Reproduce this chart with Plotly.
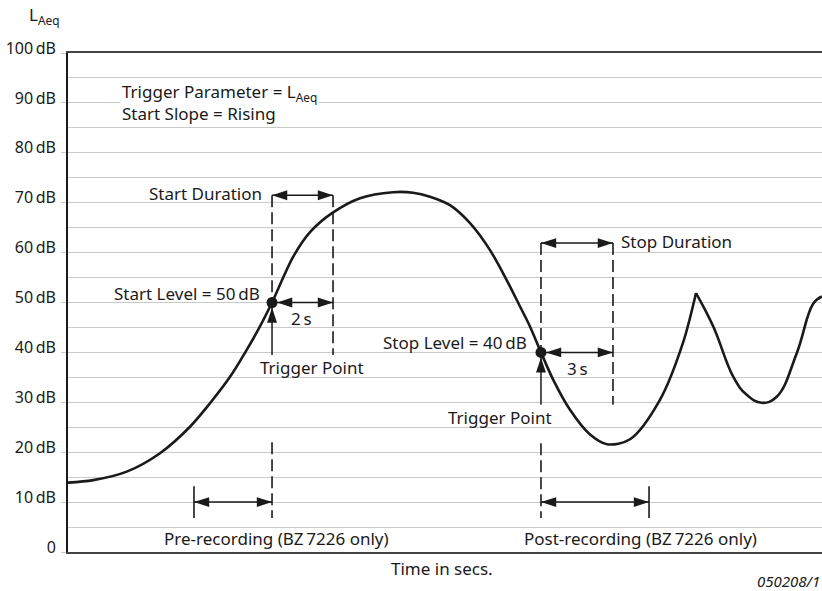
import plotly.graph_objects as go

# ---- data (time in arbitrary units, level in dB) ----
time_main = [0, 3.36, 7.79, 12.20, 16.18, 18.83, 21.49, 23.70, 25.46, 27.06, 29.84, 32.10,
             35.01, 38.73, 43.10, 45.76, 48.01, 50.66, 53.32, 55.97, 58.18, 59.95, 61.27,
             62.73, 64.36, 66.58, 69.20, 71.49, 74.54, 78.51, 81.56, 83.29]
level_main = [13.9, 14.4, 16.1, 19.8, 25.1, 29.8, 35.1, 40.5, 45.2, 50.0, 59.1, 64.1,
              67.9, 70.9, 72.1, 72.0, 71.2, 69.5, 65.9, 60.5, 54.5, 49.2, 45.2,
              40.0, 34.5, 28.5, 23.6, 21.6, 22.6, 30.5, 41.9, 51.9]
time_tail = [83.29, 85.58, 88.24, 90.01, 92.00, 93.99, 96.64, 98.85, 100]
level_tail = [51.9, 45.2, 35.1, 31.5, 29.9, 31.1, 39.8, 49.8, 51.2]

start_trigger_t = 27.06
start_level = 50
start_duration_end_t = 35.15
stop_trigger_t = 62.73
stop_level = 40
stop_duration_end_t = 72.28
pre_record_t = 16.71
post_record_t = 77.06

y_ticks = [0, 10, 20, 30, 40, 50, 60, 70, 80, 90, 100]
y_tick_labels = ["0", "10\u2009dB", "20\u2009dB", "30\u2009dB", "40\u2009dB", "50\u2009dB",
                 "60\u2009dB", "70\u2009dB", "80\u2009dB", "90\u2009dB", "100\u2009dB"]

FONT = "Noto Sans"
INK = "#1a1a1a"
GRID = "#c9c9c9"
FS = 17

fig = go.Figure()
for xs, ys, sm in [(time_main, level_main, 0.9), (time_tail, level_tail, 1.2)]:
    fig.add_trace(go.Scatter(x=xs, y=ys, mode="lines",
                             line=dict(color=INK, width=2.6, shape="spline", smoothing=sm),
                             hoverinfo="skip", showlegend=False))

DASH = "12px,5px"
def vline(x, y0, y1, dash=DASH):
    fig.add_shape(type="line", x0=x, x1=x, y0=y0, y1=y1, xref="x", yref="y",
                  line=dict(color=INK, width=1.6, dash=dash))

# dashed guide lines
vline(start_trigger_t, 71.5, start_level)
vline(start_duration_end_t, 71.5, 39.5)
vline(start_trigger_t, 22.0, 6.8)
vline(stop_trigger_t, 61.9, stop_level)
vline(stop_duration_end_t, 61.9, 29.5)
vline(stop_trigger_t, 21.8, 6.8)
# solid end bars
vline(pre_record_t, 13.2, 6.8, dash="solid")
vline(post_record_t, 13.2, 6.8, dash="solid")

# arrows: shafts as lines, heads as 'arrow' markers
shaft_x, shaft_y = [], []
head_x, head_y, head_angle, head_standoff = [], [], [], []

def add_head(x, y, angle, so):
    head_x.append(x); head_y.append(y); head_angle.append(angle); head_standoff.append(so)

def double_arrow(x0, x1, y, so0=0, so1=0):
    shaft_x.extend([x0, x1, None]); shaft_y.extend([y, y, None])
    add_head(x0, y, -90, so0)
    add_head(x1, y, 90, so1)

def up_arrow(x, y0, y1, so=0):
    shaft_x.extend([x, x, None]); shaft_y.extend([y0, y1, None])
    add_head(x, y1, 0, so)

double_arrow(start_trigger_t, start_duration_end_t, 71.5)
double_arrow(start_trigger_t, start_duration_end_t, start_level, so0=5)
up_arrow(start_trigger_t, 39.5, start_level, so=5)
double_arrow(stop_trigger_t, stop_duration_end_t, 61.9)
double_arrow(stop_trigger_t, stop_duration_end_t, stop_level, so0=5)
up_arrow(stop_trigger_t, 29.5, stop_level, so=5)
double_arrow(pre_record_t, start_trigger_t, 10)
double_arrow(stop_trigger_t, post_record_t, 10)

fig.add_trace(go.Scatter(x=shaft_x, y=shaft_y, mode="lines",
                         line=dict(color=INK, width=1.5),
                         hoverinfo="skip", showlegend=False))
fig.add_trace(go.Scatter(x=head_x, y=head_y, mode="markers",
                         marker=dict(symbol="arrow", angle=head_angle, standoff=head_standoff,
                                     size=16, color=INK, line=dict(width=0)),
                         hoverinfo="skip", showlegend=False))

fig.add_trace(go.Scatter(x=[start_trigger_t, stop_trigger_t], y=[start_level, stop_level],
                         mode="markers", marker=dict(color=INK, size=11),
                         hoverinfo="skip", showlegend=False))

def label(text, x, y, xanchor="center", size=FS, **kw):
    fig.add_annotation(x=x, y=y, xref="x", yref="y", text=text, showarrow=False,
                       xanchor=xanchor, yanchor="middle",
                       font=dict(family=FONT, size=size, color=INK), **kw)

label("Start Duration", 26.0, 71.9, xanchor="right")
label("Start Level = 50\u2009dB", 25.7, 51.9, xanchor="right")
label("2\u2009s", 31.0, 46.7)
label("Trigger Point", 32.4, 36.9)
label("Stop Level = 40\u2009dB", 61.1, 41.9, xanchor="right")
label("3\u2009s", 67.6, 36.7)
label("Trigger Point", 57.3, 27.0)
label("Stop Duration", 73.1, 62.3, xanchor="left")
label("Pre-recording (BZ\u20097226 only)", 27.65, 2.8)
label("Post-recording (BZ\u20097226 only)", 75.9, 2.8)

fig.add_annotation(x=(123 - 68) / 754 * 100, y=90, xref="x", yref="y",
                   text="Trigger Parameter = L<sub>Aeq</sub><br>Start Slope = Rising",
                   showarrow=False, xanchor="left", yanchor="middle", align="left",
                   bgcolor="white", borderpad=1, xshift=-3,
                   font=dict(family=FONT, size=FS, color=INK))

fig.add_annotation(x=0, y=1, xref="paper", yref="paper", text="L<sub>Aeq</sub>",
                   showarrow=False, xanchor="right", yanchor="middle", xshift=-6, yshift=38,
                   font=dict(family=FONT, size=FS, color=INK))
fig.add_annotation(x=(442 - 68) / 754, y=0, xref="paper", yref="paper", text="Time in secs.",
                   showarrow=False, xanchor="center", yanchor="middle", yshift=-16,
                   font=dict(family=FONT, size=FS, color=INK))
fig.add_annotation(x=1, y=0, xref="paper", yref="paper", text="<i>050208/1</i>",
                   showarrow=False, xanchor="right", yanchor="middle", yshift=-29,
                   font=dict(family=FONT, size=15, color=INK))

fig.update_layout(
    width=822, height=591,
    margin=dict(l=68, r=0, t=53, b=39, autoexpand=False),
    paper_bgcolor="white", plot_bgcolor="white",
    showlegend=False,
    xaxis=dict(range=[0, 100], showgrid=False, zeroline=False, showticklabels=False,
               ticks="", showline=True, linecolor="#444", linewidth=1.5, mirror=True,
               fixedrange=True),
    yaxis=dict(range=[0, 100], tickvals=y_ticks, ticktext=y_tick_labels,
               showgrid=True, gridcolor=GRID, gridwidth=1.3, zeroline=False,
               ticks="outside", ticklen=5, tickcolor=GRID, tickwidth=1.3,
               showline=True, linecolor=INK, linewidth=1.6, automargin=False,
               ticklabelshift=-5, ticklabelstandoff=2,
               tickfont=dict(family=FONT, size=16, color=INK),
               minor=dict(dtick=5, showgrid=True, gridcolor=GRID, gridwidth=1.3, ticks=""),
               fixedrange=True),
)

fig.write_html("out.html", config={"displayModeBar": False},
               post_script="document.body.style.margin='0';")
